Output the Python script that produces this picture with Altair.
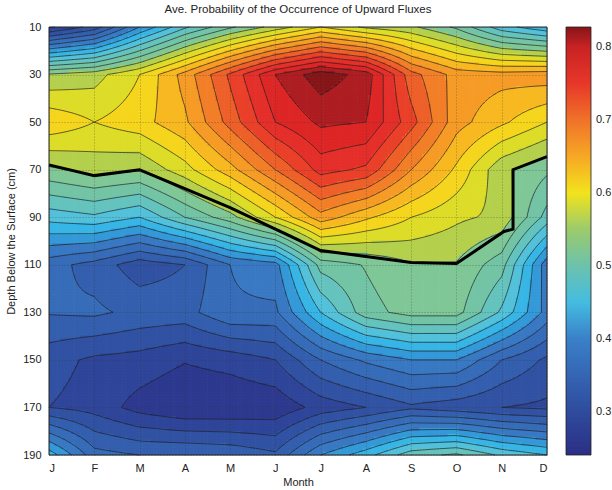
import numpy as np
import pandas as pd
import altair as alt

alt.data_transformers.disable_max_rows()

# ---------------- data ----------------
months = ["J", "F", "M", "A", "M", "J", "J", "A", "S", "O", "N", "D"]
depths = [10, 30, 50, 70, 90, 110, 130, 150, 170, 190]

# probability at each (depth, month) node, months J..D
p10 = [0.27, 0.31, 0.40, 0.47, 0.52, 0.56, 0.60, 0.57, 0.555, 0.52, 0.46, 0.43]
p30 = [0.553, 0.565, 0.60, 0.66, 0.73, 0.80, 0.84, 0.815, 0.71, 0.665, 0.66, 0.665]
p50 = [0.62, 0.60, 0.615, 0.645, 0.71, 0.775, 0.805, 0.80, 0.735, 0.66, 0.63, 0.60]
p70 = [0.545, 0.56, 0.553, 0.59, 0.64, 0.70, 0.76, 0.745, 0.675, 0.62, 0.556, 0.53]
p90 = [0.46, 0.47, 0.45, 0.50, 0.54, 0.60, 0.665, 0.63, 0.60, 0.58, 0.569, 0.49]
p110 = [0.36, 0.34, 0.31, 0.325, 0.375, 0.39, 0.51, 0.527, 0.548, 0.548, 0.51, 0.385]
p130 = [0.352, 0.355, 0.343, 0.34, 0.372, 0.37, 0.45, 0.515, 0.535, 0.535, 0.47, 0.39]
p150 = [0.31, 0.295, 0.29, 0.277, 0.285, 0.30, 0.35, 0.38, 0.40, 0.40, 0.35, 0.32]
p170 = [0.30, 0.29, 0.265, 0.251, 0.252, 0.256, 0.285, 0.30, 0.32, 0.31, 0.30, 0.295]
p190 = [0.44, 0.36, 0.35, 0.35, 0.345, 0.33, 0.40, 0.44, 0.49, 0.505, 0.47, 0.45]

# thick black line (month position, depth)
line_month = [0, 1, 2, 3, 4, 5, 6, 7, 8, 9, 10.05, 10.25, 10.25, 11]
line_depth = [68, 72.5, 70, 78, 86, 95, 104, 106.5, 109, 109.5, 96, 95, 70, 64.5]

# contour levels
levels = [round(0.25 + 0.025 * k, 4) for k in range(24)]

# colour map
cm_vals = [0.241, 0.26, 0.30, 0.35, 0.40, 0.42, 0.44, 0.47, 0.50, 0.54, 0.555,
           0.58, 0.60, 0.63, 0.65, 0.70, 0.73, 0.76, 0.79, 0.81, 0.8274]
cm_cols = ["#2A2E84", "#2C388D", "#2F4B9E", "#3565B3", "#3A80C8", "#30A8E2",
           "#38B8E6", "#5CC4D6", "#6CC2AC", "#80C795", "#A8CD58", "#D0D830",
           "#F2E31C", "#F8C11E", "#F6A825", "#F07229", "#EC4628", "#E5302A",
           "#DC2526", "#B41E22", "#861518"]

grid = np.array([p10, p30, p50, p70, p90, p110, p130, p150, p170, p190])
lev = np.array(levels)
step_lev = 0.025


def bilinear(gx, gy):
    i0 = np.clip(np.floor(gx).astype(int), 0, 10)
    j0 = np.clip(np.floor(gy).astype(int), 0, 8)
    fx = gx - i0
    fy = gy - j0
    v00 = grid[j0, i0]
    v10 = grid[j0, i0 + 1]
    v01 = grid[j0 + 1, i0]
    v11 = grid[j0 + 1, i0 + 1]
    return (v00 * (1 - fx) * (1 - fy) + v10 * fx * (1 - fy)
            + v01 * (1 - fx) * fy + v11 * fx * fy)


S = 16
h = 1.0 / S
nx, ny = 11 * S, 9 * S

# ---------------- filled bands (fine cells) ----------------
kx = np.arange(nx)
ky = np.arange(ny)
KX, KY = np.meshgrid(kx, ky)
cv = bilinear((KX + 0.5) * h, (KY + 0.5) * h)
bi = np.searchsorted(lev, cv, side="right")
lower = np.where(bi > 0, lev[np.maximum(bi - 1, 0)], lev[0] - step_lev)
band = lower + step_lev / 2
eps = 0.12 * h
cx0 = np.clip(KX * h - eps, 0, 11)
cx1 = np.clip((KX + 1) * h + eps, 0, 11)
cy0 = np.clip(KY * h - eps, 0, 9) * 20 + 10
cy1 = np.clip((KY + 1) * h + eps, 0, 9) * 20 + 10
cells = pd.DataFrame({
    "x": np.round(cx0.ravel(), 4), "x2": np.round(cx1.ravel(), 4),
    "y": np.round(cy0.ravel(), 3), "y2": np.round(cy1.ravel(), 3),
    "band": np.round(band.ravel(), 4),
})

# ---------------- contour lines (marching squares) ----------------
gxn = np.arange(nx + 1) * h
gyn = np.arange(ny + 1) * h
GX, GY = np.meshgrid(gxn, gyn)
V = bilinear(GX, GY)
a = V[:-1, :-1]
b = V[:-1, 1:]
c = V[1:, 1:]
d = V[1:, :-1]
X0 = GX[:-1, :-1]
Y0 = GY[:-1, :-1]
cen = (a + b + c + d) / 4

segs = []
for L in levels:
    case = (a > L).astype(int) + 2 * (b > L) + 4 * (c > L) + 8 * (d > L)

    def frac(p, q):
        den = q - p
        den = np.where(np.abs(den) < 1e-12, 1e-12, den)
        return np.clip((L - p) / den, 0, 1)

    E = {
        "t": (X0 + frac(a, b) * h, Y0),
        "r": (X0 + h, Y0 + frac(b, c) * h),
        "b": (X0 + frac(d, c) * h, Y0 + h),
        "l": (X0, Y0 + frac(a, d) * h),
    }
    table = {1: [("l", "t")], 2: [("t", "r")], 3: [("l", "r")], 4: [("r", "b")],
             6: [("t", "b")], 7: [("l", "b")], 8: [("l", "b")], 9: [("t", "b")],
             11: [("r", "b")], 12: [("l", "r")], 13: [("t", "r")], 14: [("l", "t")]}
    hi = cen > L
    masks = []
    for cs_, pairs in table.items():
        masks.append((case == cs_, pairs))
    masks.append(((case == 5) & hi, [("t", "r"), ("l", "b")]))
    masks.append(((case == 5) & ~hi, [("l", "t"), ("r", "b")]))
    masks.append(((case == 10) & hi, [("l", "t"), ("r", "b")]))
    masks.append(((case == 10) & ~hi, [("t", "r"), ("l", "b")]))
    for m, pairs in masks:
        if not m.any():
            continue
        for e1, e2 in pairs:
            segs.append(np.stack([E[e1][0][m], E[e1][1][m],
                                  E[e2][0][m], E[e2][1][m]], 1))

segs = np.concatenate(segs, 0)
lines = pd.DataFrame({
    "x": np.round(segs[:, 0], 4), "y": np.round(segs[:, 1] * 20 + 10, 3),
    "x2": np.round(segs[:, 2], 4), "y2": np.round(segs[:, 3] * 20 + 10, 3),
})

thick = pd.DataFrame({"m": line_month, "depth": line_depth,
                      "o": list(range(len(line_month)))})

# ---------------- chart ----------------
FONT = "Liberation Sans"
W, H = 498, 428
xs = alt.Scale(domain=[0, 11], nice=False, zero=False)
ys = alt.Scale(domain=[10, 190], reverse=True, nice=False, zero=False)
cs = alt.Scale(domain=cm_vals, range=cm_cols, clamp=True, interpolate="rgb")

label_js = "['" + "','".join(months) + "'][datum.value]"
xaxis = alt.Axis(values=list(range(12)), labelExpr=label_js, title="Month",
                 grid=True, gridDash=[1, 2], gridColor="#333333", gridOpacity=0.55,
                 gridWidth=0.8, ticks=False, domain=False, labelPadding=7,
                 labelFontSize=11, titleFontSize=11, titleFontWeight="normal",
                 labelFont=FONT, titleFont=FONT, labelColor="#222222",
                 titleColor="#222222", titlePadding=3, zindex=1)
yaxis = alt.Axis(values=depths, title="Depth Below the Surface  (cm)",
                 grid=True, gridDash=[1, 2], gridColor="#333333", gridOpacity=0.55,
                 gridWidth=0.8, ticks=False, domain=False, labelPadding=8,
                 labelFontSize=11, titleFontSize=11, titleFontWeight="normal",
                 labelFont=FONT, titleFont=FONT, labelColor="#222222",
                 titleColor="#222222", titlePadding=6, zindex=1)

legend = alt.Legend(title=None, orient="none", legendX=517, legendY=0,
                    direction="vertical", gradientLength=H, gradientThickness=25,
                    values=[0.3, 0.4, 0.5, 0.6, 0.7, 0.8], format=".1f",
                    labelFontSize=11, labelFont=FONT, labelColor="#222222",
                    gradientStrokeColor="#222222", gradientStrokeWidth=0.8,
                    labelOffset=5)

fill = alt.Chart(cells).mark_rect(strokeWidth=0).encode(
    x=alt.X("x:Q", scale=xs, axis=xaxis),
    x2="x2:Q",
    y=alt.Y("y:Q", scale=ys, axis=yaxis),
    y2="y2:Q",
    color=alt.Color("band:Q", scale=cs, legend=legend),
)

contours = alt.Chart(lines).mark_rule(color="#1e1e1e", strokeWidth=0.8,
                                      opacity=0.85).encode(
    x=alt.X("x:Q", scale=xs), y=alt.Y("y:Q", scale=ys),
    x2="x2:Q", y2="y2:Q",
)

thick_line = alt.Chart(thick).mark_line(color="black", strokeWidth=3).encode(
    x=alt.X("m:Q", scale=xs), y=alt.Y("depth:Q", scale=ys), order="o:Q",
)

frame = alt.Chart(pd.DataFrame({"a": [0]})).mark_rect(
    fillOpacity=0, stroke="#222222", strokeWidth=1
).encode(x=alt.value(0), x2=alt.value(W), y=alt.value(0), y2=alt.value(H))

chart = alt.layer(fill, contours, thick_line, frame).properties(
    width=W, height=H,
    title=alt.TitleParams("Ave. Probability of the Occurrence of Upward Fluxes",
                          font=FONT, fontSize=11.5, fontWeight="normal",
                          color="#222222", offset=6),
    autosize=alt.AutoSizeParams(type="none"),
    padding={"left": 49, "top": 27, "right": 65, "bottom": 35},
).configure_view(stroke=None).configure(background="white")

chart.save("out.html", embed_options={"renderer": "svg", "actions": False})
